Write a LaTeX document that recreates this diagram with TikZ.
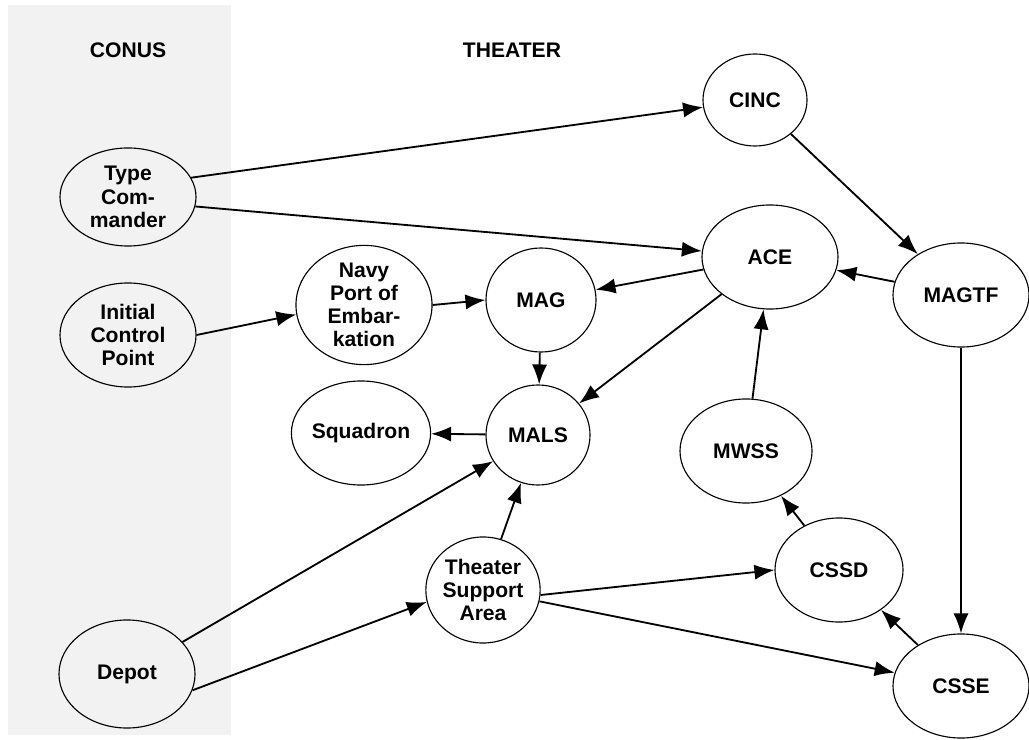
\documentclass[tikz,border=0pt]{standalone}
\usepackage{fontspec}
\setmainfont{Liberation Sans}
\usetikzlibrary{shapes.geometric,arrows.meta}
\tikzset{
  unit/.style={ellipse,draw,line width=0.8pt,align=center,inner sep=0pt,
    minimum width=3.4cm,minimum height=2.6cm,
    font=\bfseries\fontsize{15}{16.5}\selectfont},
  head/.style={font=\bfseries\fontsize{15}{16.5}\selectfont}
}
\begin{document}
\begin{tikzpicture}[x=0.025cm,y=-0.025cm]
      \useasboundingbox (0,0) rectangle (1029,740);
      \fill[gray!10] (8,5) rectangle (231,735);
      \draw
        (128,50) node[head] (conus){CONUS}
        (512,50) node[head] (theater){THEATER}
        (755,100) node[unit,minimum width=2.6cm,minimum height=2.3cm] (cinc){CINC}
        (128,197) node[unit,minimum height=2.45cm] (tcmd){Type\\Com-\\mander}
        (770,257) node[unit] (ace){ACE}
        (961,295) node[unit] (magtf){MAGTF}
        (128,335) node[unit] (icp){Initial\\Control\\Point}
        (364,305) node[unit] (npoe){Navy\\Port of\\Embar-\\kation}
        (541,300) node[unit,minimum width=2.75cm] (mag){MAG}
        (538,435) node[unit,minimum width=2.6cm,minimum height=2.5cm] (mals){MALS}
        (361,433) node[unit] (sqdn){Squadron}
        (746,451) node[unit,minimum width=3.3cm] (mwss){MWSS}
        (839,570) node[unit,minimum width=3.2cm] (cssd){CSSD}
        (483,590) node[unit,minimum width=2.8cm,minimum height=2.65cm] (tsa){Theater\\Support\\Area}
        (127,674) node[unit,minimum height=2.7cm] (depot){Depot}
        (961,686) node[unit] (csse){CSSE};
      \begin{scope}[line width=1.3pt,-{Latex[length=0.5cm,width=0.38cm]}]
        \draw (tcmd.17) to (cinc);
        \draw (tcmd.-8) to (ace.175);
        \draw (cinc) to (magtf);
        \draw (magtf) to (ace);
        \draw (magtf.south) to (csse.north);
        \draw (ace) to (mag);
        \draw (ace) to (mals);
        \draw (icp.east) to (npoe.188);
        \draw (npoe.east) to (mag.west);
        \draw (mag) to (mals);
        \draw (mals) to (sqdn);
        \draw (mwss) to (ace);
        \draw (cssd) to (mwss);
        \draw (csse) to (cssd);
        \draw (tsa) to (mals);
        \draw (tsa.-5) to (cssd.west);
        \draw (tsa) to (csse);
        \draw (depot.30) to (mals);
        \draw (depot.-14) to (tsa.192);
      \end{scope}
    \end{tikzpicture}
\end{document}
